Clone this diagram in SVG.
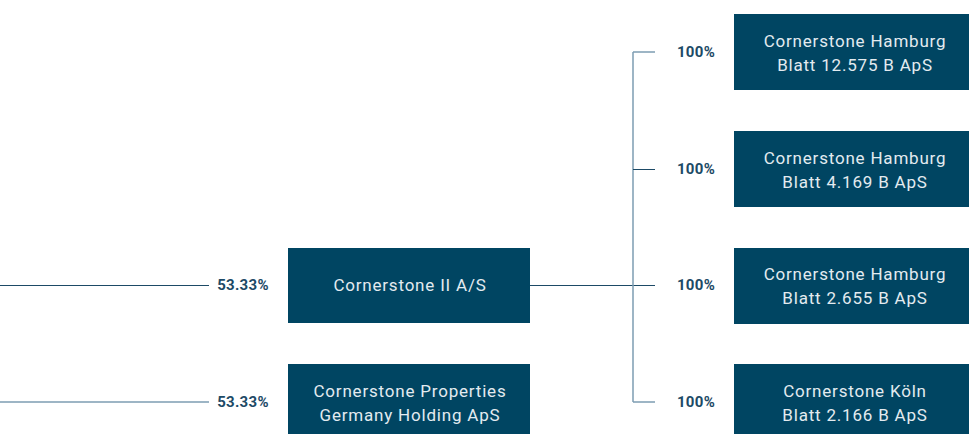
<svg xmlns="http://www.w3.org/2000/svg" width="969" height="434" viewBox="0 0 969 434">
<style>
.box{fill:#004562}
.t{font-family:Roboto,"Liberation Sans",sans-serif;font-size:17px;letter-spacing:0.8px;fill:#e3ebf0;text-anchor:middle}
.p{font-family:Roboto,"Liberation Sans",sans-serif;font-size:15px;letter-spacing:0.3px;font-weight:bold;fill:#1d4a66;text-anchor:middle}
.ln{stroke:#1d4a66;stroke-width:1;fill:none}
.lt{stroke:#7d9db2;stroke-width:1.5;fill:none}
</style>
<rect width="969" height="434" fill="#fff"/>
<g id="connectors">
<line class="ln" x1="0" y1="285.5" x2="209" y2="285.5"/>
<line class="lt" x1="0" y1="402" x2="209" y2="402"/>
<line class="ln" x1="530" y1="285.5" x2="655" y2="285.5"/>
<line class="lt" x1="633" y1="52" x2="633" y2="402"/>
<line class="lt" x1="633" y1="52" x2="655" y2="52"/>
<line class="ln" x1="633" y1="169.5" x2="655" y2="169.5"/>
<line class="lt" x1="633" y1="402" x2="655" y2="402"/>
<text class="p" x="243" y="290">53.33%</text>
<text class="p" x="243" y="407">53.33%</text>
<text class="p" x="696" y="57">100%</text>
<text class="p" x="696" y="174">100%</text>
<text class="p" x="696" y="290">100%</text>
<text class="p" x="696" y="407">100%</text>
</g>
<g id="cornerstone-ii">
<rect class="box" x="288" y="248" width="242" height="75"/>
<text class="t" x="410" y="291">Cornerstone II A/S</text>
</g>
<g id="cornerstone-properties">
<rect class="box" x="288" y="364" width="242" height="72"/>
<text class="t" x="410" y="397">Cornerstone Properties</text>
<text class="t" x="410" y="421">Germany Holding ApS</text>
</g>
<g id="hamburg-12575">
<rect class="box" x="734" y="14" width="240" height="76"/>
<text class="t" x="855" y="47">Cornerstone Hamburg</text>
<text class="t" x="855" y="71">Blatt 12.575 B ApS</text>
</g>
<g id="hamburg-4169">
<rect class="box" x="734" y="131" width="240" height="76"/>
<text class="t" x="855" y="164">Cornerstone Hamburg</text>
<text class="t" x="855" y="188">Blatt 4.169 B ApS</text>
</g>
<g id="hamburg-2655">
<rect class="box" x="734" y="248" width="240" height="76"/>
<text class="t" x="855" y="280">Cornerstone Hamburg</text>
<text class="t" x="855" y="304">Blatt 2.655 B ApS</text>
</g>
<g id="koeln-2166">
<rect class="box" x="734" y="364" width="240" height="72"/>
<text class="t" x="855" y="397">Cornerstone Köln</text>
<text class="t" x="855" y="421">Blatt 2.166 B ApS</text>
</g>
</svg>
